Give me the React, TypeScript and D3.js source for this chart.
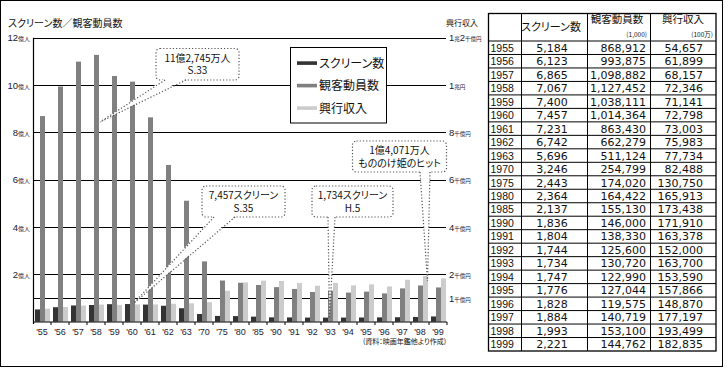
import * as d3 from "d3";

// x categories (chart) and table years
const yearLabels = ["'55", "'56", "'57", "'58", "'59", "'60", "'61", "'62", "'63", "'70", "'75", "'80", "'85", "'90", "'91", "'92", "'93", "'94", "'95", "'96", "'97", "'98", "'99"];
const tableYears = ["1955", "1956", "1957", "1958", "1959", "1960", "1961", "1962", "1963", "1970", "1975", "1980", "1985", "1990", "1991", "1992", "1993", "1994", "1995", "1996", "1997", "1998", "1999"];

// series values
const screens = [5184, 6123, 6865, 7067, 7400, 7457, 7231, 6742, 5696, 3246, 2443, 2364, 2137, 1836, 1804, 1744, 1734, 1747, 1776, 1828, 1884, 1993, 2221];
const attendance = [868912, 993875, 1098882, 1127452, 1038111, 1014364, 863430, 662279, 511124, 254799, 174020, 164422, 155130, 146000, 138330, 125600, 130720, 122990, 127044, 119575, 140719, 153100, 144762]; // 1,000 people
const revenue = [54657, 61899, 68157, 72346, 71141, 72798, 73003, 75983, 77734, 82488, 130750, 165913, 173438, 171910, 163378, 152000, 163700, 153590, 157866, 148870, 177197, 193499, 182835]; // 100万円

const seriesNames = ["スクリーン数", "観客動員数", "興行収入"];
const seriesColors = ["#333333", "#808080", "#cccccc"];

// tick labels
const gridValues = [1, 2, 4, 6, 8, 10, 12];
const leftTicks = [2, 4, 6, 8, 10, 12];
const rightTicks: [number, [string, boolean][]][] = [
  [12, [["1", true], ["兆", false], ["2", true], ["千億円", false]]],
  [10, [["1", true], ["兆円", false]]],
  [8, [["8", true], ["千億円", false]]],
  [6, [["6", true], ["千億円", false]]],
  [4, [["4", true], ["千億円", false]]],
  [2, [["2", true], ["千億円", false]]],
  [1, [["1", true], ["千億円", false]]],
];

const notes = [
  { lines: ["11億2,745万人", "S.33"], box: [156, 48.5, 83, 31.5], tail: [[165, 80], [186, 80], [100, 122]] },
  { lines: ["7,457スクリーン", "S.35"], box: [202, 186, 83, 31], tail: [[214, 217], [235, 217], [133, 304]] },
  { lines: ["1,734スクリーン", "H.5"], box: [312, 186, 81, 31], tail: [[328, 217], [335, 217], [329.5, 318]] },
  { lines: ["1億4,071万人", "もののけ姫のヒット"], box: [352.5, 141, 94, 31], tail: [[420, 172], [430, 172], [427.5, 281]] },
];

const JP = "'Noto Sans CJK JP', 'Noto Sans CJK SC', sans-serif";
const NUM = "'Liberation Sans', Arial, sans-serif";
const TNUM = "'DejaVu Sans', sans-serif";
const palt = { fontFeatureSettings: '"palt"' } as const;

export default function App() {
  const W = 728, H = 368;
  const x = d3.scaleBand<string>().domain(yearLabels).range([33, 447]);
  const sub = d3.scaleBand<number>().domain([0, 1, 2]).range([2, 17]);
  const y = d3.scaleLinear().domain([0, 12]).range([321.7, 37.7]);

  const scaled = [
    screens.map((v) => v / 10000),
    attendance.map((v) => v / 100000),
    revenue.map((v) => v / 100000),
  ];

  const fmt = d3.format(",");

  // table layout
  const tL = 488.5, tR = 716, tTop = 13.5, hdrB = 41;
  const cols = [tL, 521, 587, 650, tR];
  const row = d3.scaleBand<string>().domain(tableYears).range([hdrB, 351]);

  return (
    <svg width={W} height={H} style={{ position: "absolute", left: 0, top: 0, background: "#fff" }}>
      <rect x={0.5} y={0.5} width={722} height={366} fill="#fff" stroke="#000" strokeWidth={1} />

      {/* titles */}
      <text x={8} y={27} fontFamily={JP} fontSize={10} fill="#111" style={palt}>スクリーン数／観客動員数</text>
      <text x={446} y={26} fontFamily={JP} fontSize={8} fill="#111" style={palt}>興行収入</text>

      {/* grid */}
      {gridValues.map((v) => (
        <line key={v} x1={33} x2={446} y1={Math.round(y(v)) + 0.5} y2={Math.round(y(v)) + 0.5} stroke="#000" strokeWidth={1} />
      ))}

      {/* bars */}
      {scaled.map((vals, si) =>
        vals.map((v, i) => (
          <rect
            key={si + "-" + i}
            x={(x(yearLabels[i]) ?? 0) + (sub(si) ?? 0)}
            y={y(v)}
            width={sub.bandwidth()}
            height={y(0) - y(v)}
            fill={seriesColors[si]}
          />
        ))
      )}

      {/* axes */}
      <line x1={33.5} x2={33.5} y1={37.7} y2={324} stroke="#000" strokeWidth={1.2} />
      <line x1={33} x2={447} y1={322} y2={322} stroke="#000" strokeWidth={1.2} />
      {yearLabels.map((d) => (
        <line key={d} x1={(x(d) ?? 0) + 18} x2={(x(d) ?? 0) + 18} y1={322} y2={325} stroke="#000" strokeWidth={1} />
      ))}
      {yearLabels.map((d) => (
        <text key={d} x={(x(d) ?? 0) + 9} y={334.5} textAnchor="middle" fontFamily={NUM} fontSize={9} fill="#1a1a33">{d}</text>
      ))}

      {/* left tick labels */}
      {leftTicks.map((v) => (
        <text key={v} x={30} y={y(v) + 3.5} textAnchor="end" fill="#1a1a33">
          <tspan fontFamily={NUM} fontSize={9.5}>{v}</tspan>
          <tspan fontFamily={JP} fontSize={6}>億人</tspan>
        </text>
      ))}

      {/* right tick labels */}
      {rightTicks.map(([v, parts]) => (
        <text key={v} x={449} y={y(v) + 3.5} fill="#1a1a33">
          {parts.map(([t, big], k) => (
            <tspan key={k} fontFamily={big ? NUM : JP} fontSize={big ? 9.5 : 5.5}>{t}</tspan>
          ))}
        </text>
      ))}

      {/* legend */}
      <rect x={290.5} y={47.5} width={96} height={75.5} fill="#fff" stroke="#000" strokeWidth={1} />
      {seriesNames.map((n, i) => (
        <g key={n}>
          <rect x={297} y={61.3 + i * 22.5} width={20} height={3.6} fill={seriesColors[i]} />
          <text x={319} y={67.5 + i * 22.5} fontFamily={JP} fontSize={12} fill="#111" style={palt}>{n}</text>
        </g>
      ))}

      {/* annotations */}
      {notes.map((n, i) => {
        const [bx, by, bw, bh] = n.box;
        const [[ax1, ay1], [ax2, ay2], [tx, ty]] = n.tail;
        return (
          <g key={i}>
            <rect x={bx} y={by} width={bw} height={bh} rx={4} fill="#fff" stroke="#555" strokeWidth={1.2} strokeDasharray="1.2 2" />
            <path d={`M${ax1},${ay1 - 1.5}L${ax2},${ay2 - 1.5}L${tx},${ty}Z`} fill="#fff" />
            <line x1={ax1} y1={ay1} x2={tx} y2={ty} stroke="#555" strokeWidth={1.2} strokeDasharray="1.2 2" />
            <line x1={ax2} y1={ay2} x2={tx} y2={ty} stroke="#555" strokeWidth={1.2} strokeDasharray="1.2 2" />
            <text textAnchor="middle" fontFamily={JP} fontSize={10} fill="#111" style={palt}>
              {n.lines.map((t, k) => (
                <tspan key={k} x={bx + bw / 2} y={by + 13 + k * 12.5}>{t}</tspan>
              ))}
            </text>
          </g>
        );
      })}

      <text x={446} y={344} textAnchor="end" fontFamily={JP} fontSize={7} fill="#111" style={palt}>(資料：映画年鑑他より作成)</text>

      {/* table */}
      <g>
        {tableYears.map((yr, i) => {
          const ry = row(yr) ?? 0;
          const by = ry + row.bandwidth() / 2 + 4;
          return (
            <g key={yr}>
              <line x1={tL} x2={tR} y1={ry} y2={ry} stroke="#000" strokeWidth={1} />
              <text x={490.5} y={by} fontFamily={NUM} fontSize={10.5} fill="#111">{yr}</text>
              <text x={552} y={by} textAnchor="middle" fontFamily={TNUM} fontSize={11} fill="#111">{fmt(screens[i])}</text>
              <text x={646} y={by} textAnchor="end" fontFamily={TNUM} fontSize={11} fill="#111">{fmt(attendance[i])}</text>
              <text x={703} y={by} textAnchor="end" fontFamily={TNUM} fontSize={11} fill="#111">{fmt(revenue[i])}</text>
            </g>
          );
        })}
        {cols.slice(1, 4).map((c) => (
          <line key={c} x1={c + 0.5} x2={c + 0.5} y1={tTop} y2={351} stroke="#000" strokeWidth={1} />
        ))}
        <rect x={tL} y={tTop} width={tR - tL} height={351 - tTop} fill="none" stroke="#000" strokeWidth={1.3} />
        <text x={551} y={31} textAnchor="middle" fontFamily={JP} fontSize={11} fill="#111" style={palt}>スクリーン数</text>
        <text x={617} y={23} textAnchor="middle" fontFamily={JP} fontSize={10.5} fill="#111" style={palt}>観客動員数</text>
        <text x={647} y={36.5} textAnchor="end" fontFamily={JP} fontSize={6.5} fill="#111">(1,000)</text>
        <text x={683} y={23} textAnchor="middle" fontFamily={JP} fontSize={10.5} fill="#111" style={palt}>興行収入</text>
        <text x={713} y={36.5} textAnchor="end" fontFamily={JP} fontSize={6.5} fill="#111">(100万)</text>
      </g>
    </svg>
  );
}
